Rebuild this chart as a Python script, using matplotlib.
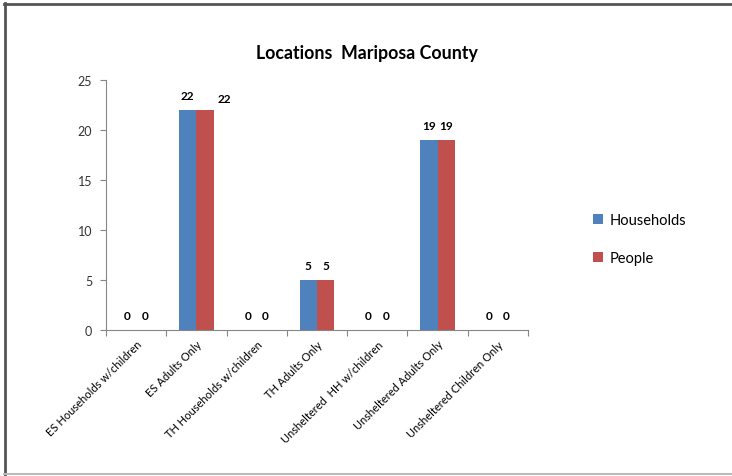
import numpy as np
import matplotlib.pyplot as plt
from matplotlib.lines import Line2D

plt.rcParams['font.family'] = ['Lato', 'DejaVu Sans']

categories = ['ES Households w/children', 'ES Adults Only', 'TH Households w/children',
              'TH Adults Only', 'Unsheltered  HH w/children', 'Unsheltered Adults Only',
              'Unsheltered Children Only']
households = [0, 22, 0, 5, 0, 19, 0]
people = [0, 22, 0, 5, 0, 19, 0]

blue = '#4F81BD'
red = '#C0504D'
axcol = '#868686'

W, H = 732, 477
fig = plt.figure(figsize=(W / 100, H / 100), dpi=100)
ax = fig.add_axes([106 / W, (H - 331) / H, (528 - 106) / W, 250 / H])

x = np.arange(len(categories))
bw = 0.29
ax.bar(x - bw / 2, households, bw, color=blue, label='Households')
ax.bar(x + bw / 2, people, bw, color=red, label='People')

for i in range(len(categories)):
    ax.annotate(str(households[i]), (x[i] - bw / 2, households[i]), xytext=(0, 6.5),
                textcoords='offset points', ha='center', va='bottom',
                fontsize=8.5, fontweight='bold')
    # Excel pushed one label sideways
    dx, dy = (14, 4.5) if i == 1 else (0, 6.5)
    ax.annotate(str(people[i]), (x[i] + bw / 2, people[i]), xytext=(dx, dy),
                textcoords='offset points', ha='center', va='bottom',
                fontsize=8.5, fontweight='bold')

ax.set_xlim(-0.5, len(categories) - 0.5)
ax.set_ylim(0, 25)
ax.set_yticks([0, 5, 10, 15, 20, 25])
ax.set_xticks(np.arange(len(categories) + 1) - 0.5, minor=False)
ax.set_xticklabels([])
ax.set_xticks(x, minor=True)
ax.set_xticklabels(categories, minor=True, rotation=45, ha='right',
                   rotation_mode='anchor', fontsize=8)
ax.tick_params(axis='x', which='minor', length=0, pad=6)
ax.tick_params(axis='x', which='major', length=4, color=axcol)
ax.tick_params(axis='y', length=4, color=axcol, labelsize=9, labelcolor='#333333', pad=6)

for s in ['top', 'right']:
    ax.spines[s].set_visible(False)
for s in ['left', 'bottom']:
    ax.spines[s].set_color(axcol)

fig.text(367 / W, 1 - 53 / H, 'Locations  Mariposa County', ha='center', va='center',
         fontsize=12.8, fontweight='bold')

ax.legend(loc='center left', bbox_to_anchor=(580 / W, 1 - 240 / H),
          bbox_transform=fig.transFigure, frameon=False, fontsize=10.5,
          handlelength=0.7, handleheight=0.7, handletextpad=0.4, labelspacing=1.65)

# chart frame
fig.add_artist(Line2D([4.5 / W, 4.5 / W], [1 - 4 / H, 1 / H], color='#555555', lw=2,
                      transform=fig.transFigure))
fig.add_artist(Line2D([4 / W, 1], [1 - 4.5 / H, 1 - 4.5 / H], color='#555555', lw=2,
                      transform=fig.transFigure))
fig.add_artist(Line2D([4 / W, 1], [2 / H, 2 / H], color='#bbbbbb', lw=1.5,
                      transform=fig.transFigure))

plt.savefig('out.png', dpi=100)
